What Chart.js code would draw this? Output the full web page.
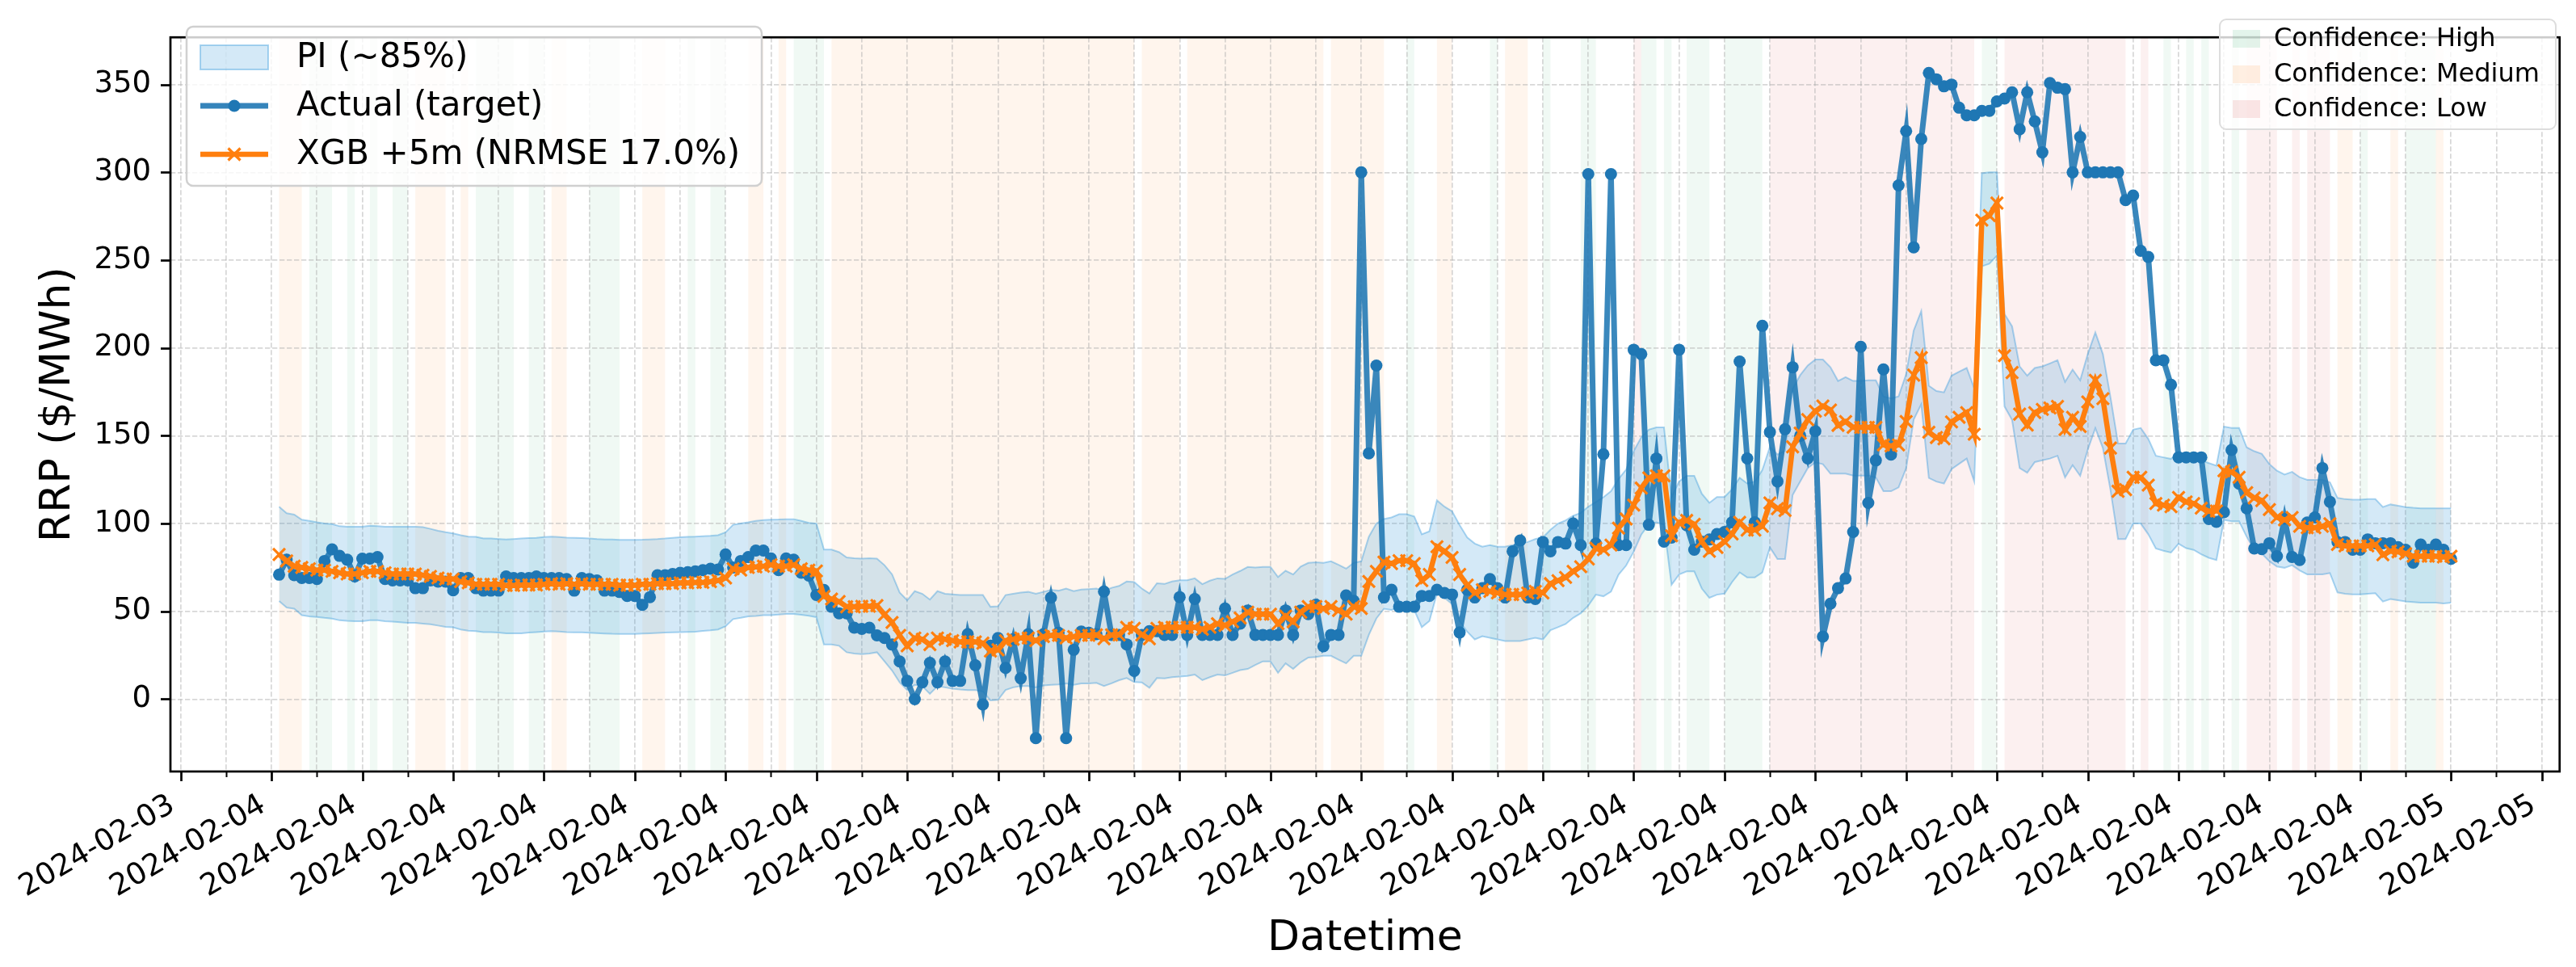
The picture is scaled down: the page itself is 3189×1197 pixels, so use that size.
<!DOCTYPE html>
<html><head><meta charset="utf-8">
<script src="https://cdn.jsdelivr.net/npm/chart.js@4.4.1/dist/chart.umd.min.js"></script>
<style>html,body{margin:0;padding:0;background:#fff;overflow:hidden}canvas{display:block}</style>
</head><body>
<canvas id="c" width="3189" height="1197" style="width:3189px;height:1197px"></canvas>
<script>
// ---------------- DATA (5-minute intervals, 2024-02-04 00:05 .. 2024-02-05 00:00) ----------------
const actual = [
70.9,79.4,70.6,69,69,68.4,78.7,85.3,81.6,79.4,
69.9,80,80,80.9,68.4,67.6,67.6,67.6,63.2,63.2,
67.6,66.9,66.9,62,69,69,63.2,61.8,61.8,61.8,
69.9,69,69,69,69.9,69,69,69,68.4,61.8,
69,68.4,67.6,61.8,61.8,61,58.8,58.8,53.7,58.1,
70.6,70.6,71.3,72,72.3,72.8,73.5,74.3,73.8,82.4,
75,78.7,80.9,84.6,84.6,80.1,73.5,80.1,79.4,72,
70.4,59.3,62.2,52.6,48.9,48.9,40.7,40,40.7,36.3,
34.8,31.1,21.5,10.4,0,9.6,20.7,9.6,21.5,10.4,
10.4,37,19.3,-3,30.4,34.8,17.8,34.1,11.9,37,
-22.2,37,57.8,37.8,-22.2,28.1,38.5,37.8,37,61.3,
36.6,36.6,31.2,16.1,36.6,38.7,38.7,36.6,36.6,58.1,
36.6,57,36.6,36.6,36.6,51.6,36.6,43,50.5,36.6,
36.6,36.6,36.6,50.5,36.6,50.5,48.4,53.8,30.1,36.6,
36.6,59.1,56,300,140,190,57.9,62.3,52.6,52.6,
52.6,58.8,58.8,62.3,60.5,59.6,38,62.3,57.9,63.2,
68.4,63.2,57.9,84.2,90.4,57.9,57,89.5,84.2,89.5,
88.6,100,87.7,299,88.6,139.5,299,87.7,87.7,199,
196.5,99.3,137,89.7,92,199,99,85.1,89.7,90.9,
94,95.2,100.7,192.3,137.1,100.7,212.6,152.1,124,153.7,
189,150,137.1,152.6,35.6,54.4,63.2,68.7,95.2,200.7,
111.8,136,187.8,139.3,292.6,323.5,257.3,319,356.6,353,
349,350,336.8,332.5,332.5,335,335,340.4,342,345.6,
324.6,345.6,329,311.4,350.9,348.2,347.4,300,320.2,300,
300,300,300,300,284.2,286.8,255.3,251.8,193,193,
179,137.7,137.7,137.7,137.7,102.6,101,106.5,141.9,122.7,
108.7,85.8,85.4,88.8,81.4,102.8,81,79.2,100.6,103.5,
131.6,112.4,89.5,89.5,85.1,85.1,91,88.8,88.8,88.8,
86.6,85.1,77.7,88.1,85.1,88.1,85.1,79.9];

const forecast = [
82.4,78.7,75.7,75,74.3,73.5,73.5,72.8,72,71.3,
71.3,72,72.8,72.8,72,71.3,71.3,71.3,71.3,70.6,
69.9,69,68.4,68.4,66.9,66.2,65.4,65.4,65.4,65.4,
64.7,64.7,65,65,65,65.4,65.8,65.4,65.8,65.4,
65.8,65.4,65.4,65.4,65.4,64.9,64.9,64.9,65.4,65.4,
65.8,65.8,65.8,66.2,66.2,66.5,66.5,66.9,67.6,69,
74.3,73.5,75,75.3,75.7,76.5,75.7,75.7,76.5,74.3,
73.5,73,58.5,57,55.6,52.6,52.6,52.9,52.9,53.3,
48.1,43.7,36.3,30.4,34.8,34.1,31.1,34.8,34.1,33.3,
32.6,32.6,32.6,31.9,27.4,28.1,33.3,34.1,34.8,34.8,
33.3,35.6,36.3,36.3,34.8,35.6,36.3,36.3,36.6,34.4,
36.6,36.6,40.9,40.3,36.6,34.4,40.3,40.9,40.9,40.9,
40.9,40.9,39.8,40.9,43,42,44.1,46.2,49.5,48.4,
48.4,48.4,43,47.3,44.1,49.5,52.7,52.7,51.6,52.7,
50.5,48.4,52.7,51.6,67,72.8,78,77.2,78.9,78.9,
77.2,67.5,71,86.8,84.2,80.7,71,64.9,60.5,62.3,
61.4,60.5,59.6,59.6,59.6,60.5,61.4,60.5,65.8,67.5,
69.3,72.8,75.4,79.8,86,85.1,87.7,97.4,102.6,110.5,
120.2,126,127.2,127.2,93,100.7,101.8,99.6,89.7,84.2,
86.4,89.7,94.1,100.7,96.3,96.3,98.5,111.8,108.5,107.4,
143.7,151.5,159.2,164,166.9,164.7,155.9,158.1,154.8,154.8,
154.8,154.8,144.8,144.2,144.8,158.1,184.5,194.5,152,149,
148.2,157.9,160.5,163.2,150.9,272.8,275.4,282.5,195.6,186,
162.3,156.1,163.2,165,165.8,166.7,153.5,160.5,155.3,169.3,
181.6,171.1,143,118.4,119.3,126.3,126.3,121.9,111.4,110.5,
109.6,114.9,112.3,111.4,108.8,107,107.2,130.1,129.4,126.4,
117.6,114.6,113.1,108,103.5,102.1,103.5,98.4,97.6,97.6,
98.4,99.9,88.1,87.3,87.3,87.3,87.3,88.1,82.2,84.4,
83.9,82.9,81.4,81.4,81.4,81.4,81,81.4];

const piUpper = [
109.6,105.9,105.1,102.2,101.5,100.7,100,99.7,98.5,98.2,
98.2,98.2,98.8,98.5,98.2,98.2,98.2,98.2,98.2,98,
97,95.9,95.1,94.4,93.4,92.6,92.4,91.5,91.5,91.2,
90.9,91.2,91.5,91.7,91.9,92.3,92.6,92.3,92,91.9,
91.7,91.5,91.2,91,90.9,90.7,90.7,90.7,90.8,91,
91.2,91.5,91.9,92.2,92.5,92.6,92.8,93,93.4,95,
99.3,100,100.7,101.5,102,102.2,102.3,102.5,102.5,101.5,
100.4,100,85.2,85.2,83.7,80.7,80.3,80,80.3,80,
76.3,71.1,60.7,56.3,61.5,60,56.7,61.5,60,59.7,
59.3,59.3,59.3,59.3,52.6,52.9,59.3,60,60.7,61.1,
60,61.1,62.2,61.8,63,61.5,62.4,62.7,63,61.5,
63.4,64.5,67,66.7,63,60.2,66,65.6,67,67.7,
67.7,68.8,65.5,67.5,68.8,68.5,71,73,75.3,75,
75.3,75.3,69.5,73.1,71,75.5,77.6,78,77.6,78.5,
76.5,74.3,77.6,78.5,92.5,100,102.6,103.5,105.3,105.3,
104,93.9,95.6,113.2,109.6,107,99.1,92.1,88.6,86.8,
87.7,86.8,86.8,87.7,88.6,89.5,91.2,92.1,96.5,100,
101.8,104.4,106.1,109.6,112.3,115,118.4,125.4,130.7,141.2,
149.1,153.5,154.8,154.8,115.1,124,127.2,127.2,117,111.8,
115.1,115.1,119.5,126.1,122.8,123.9,130.5,143.7,139.3,141.5,
176.8,184.5,190,193.4,193.4,189,181.2,183.4,181.2,181.2,
181.6,181.6,172.4,171.3,172.4,185,209.9,221,178.5,175.5,
174.7,184.2,186.5,188.6,177,299.5,300,300,219.3,212.3,
189.5,184.2,188.6,189.5,191.2,193,180.7,187.7,181.6,196.5,
208.8,196.5,172,145.6,145.6,153.5,154.4,148.2,138.6,137.7,
136.8,141.2,138.6,138.6,136,134.4,133,155.2,154.4,154.4,
143.4,141.2,139.7,133.8,130.1,127.9,129.4,126.4,124.9,124.9,
124.9,123.5,114.6,113.9,113.6,113.6,113.9,113.9,109.4,110.9,
110.2,109.4,109,108.7,108.7,108.7,108.7,108.7];

const piLower = [
55.9,52.2,51.5,47.8,47.1,46.8,46.3,45.9,44.9,44.6,
44.4,44.4,44.9,44.9,44.4,44.1,43.8,43.4,43.4,43,
42.6,41.9,41.2,40.9,39.7,39,38.7,38.2,38.2,37.9,
37.5,37.5,37.5,37.9,38.2,38.5,38.7,38.5,38.2,38,
38,37.8,37.6,37.4,37.2,37.1,37.1,37.1,37.3,37.5,
37.7,37.9,38.1,38.2,38.3,38.4,38.8,39.2,39.7,41.5,
45.6,46.3,47.1,47.4,47.8,47.8,48.2,48.5,48.5,48,
47.5,46.7,31.1,31.1,30.4,26.7,26,25.6,26,26.7,
21.5,16.3,9.6,5.2,8.1,7.4,3,7.4,6.7,5.9,
5.5,5.2,5.2,4.4,-0.7,-0.4,5.2,6.7,7.4,7.4,
6.7,7.8,8.1,8.4,8.9,8.1,8.9,8.9,9.3,7.5,
9,10.8,12,9.7,9.5,6.5,12,11.8,12.5,12.9,
13.2,14,10.8,12.5,14,13.5,15,16.5,17.2,19.5,
21.5,21.5,15,20.4,17.2,21,23.7,24,24.7,24.7,
22.5,20.4,24.7,24.7,36.6,46,51.5,50.8,52.5,52.5,
50.8,41,44.5,60.3,57.7,54.2,44.5,38.4,34,35.8,
34.9,34,33.1,33.1,33.1,34,34.9,34,39.3,41,
42.8,46.3,48.9,53.3,59.5,58.6,61.2,70.9,76.1,84,
93.7,99.5,100.7,99.3,65.1,71,72.8,72.8,63,57.7,
59.5,60.1,66.7,72.2,69.3,69.3,72.2,86.4,79.8,79.8,
116.2,124,131.6,134.9,133.8,128.4,128.4,128.4,127.3,127.3,
127.3,126.2,118.4,118.4,120.6,131.5,159.2,168,126,123.9,
122.8,131,134,137,124,246.5,248,252.6,166.7,159,
131.6,129,135,136,137,138.6,126.3,133.3,127.2,142.1,
154.4,143,119.3,91.2,91.2,100,100,93.9,85.8,84.5,
83.5,88.5,86,85,82.5,80.5,79.2,102.1,101.3,101.3,
92.5,85.1,82.9,78.5,75.5,74.8,76.3,73.3,71.1,71.1,
71.1,71.8,60.8,60,59.7,59.7,60,60.3,55.6,57,
56.3,55.6,55.3,54.9,54.9,54.9,54.5,54.9];

// Confidence per interval: H = High, M = Medium, L = Low, - = none
const confidenceRows = [
"MMM-HHH--H","--H--HH-MM","MM--M-HHHH","H--HH-MM--","-HHHH---MM",
"M---H--HH-","--MM--M-HH","HH-MMMMMMM","MMMMMMMMMM","MMMMMMMMMM",
"MMMMMMMMMM","MMM-MMMMM-","MMMMMMMMMM","MMMMMMMM-M","MMMMMM---H",
"---MM-----","H-MMM--H--","--HH-----L","HH-H--HHH-","-HHHHH-LLL",
"LLLLLLLLLL","LLLLLLLLLL","LLLL-HH-LL","LLLLLLLLLL","LLLL--L--H",
"--H-H---H-","LLLL--L-LL","L-MM-H---M","-HHHHM--"];
const confidence = confidenceRows.join('').split('');

// Axis ticks (hours relative to 2024-02-04 00:00)
const xTickHours = [-1,0,1,2,3,4,5,6,7,8,9,10,11,12,13,14,15,16,17,18,19,20,21,22,23,24,25];
const xTickLabels = ['2024-02-03','2024-02-04','2024-02-04','2024-02-04','2024-02-04','2024-02-04',
  '2024-02-04','2024-02-04','2024-02-04','2024-02-04','2024-02-04','2024-02-04','2024-02-04',
  '2024-02-04','2024-02-04','2024-02-04','2024-02-04','2024-02-04','2024-02-04','2024-02-04',
  '2024-02-04','2024-02-04','2024-02-04','2024-02-04','2024-02-04','2024-02-05','2024-02-05'];
const yTicks = [0,50,100,150,200,250,300,350];

const legendLabels = ['PI (~85%)','Actual (target)','XGB +5m (NRMSE 17.0%)'];
const confLegend = [['H','Confidence: High'],['M','Confidence: Medium'],['L','Confidence: Low']];

// ---------------- CHART ----------------
const FONT = '"DejaVu Sans", "Liberation Sans", sans-serif';
const STEP_H = 5/60;
const times = actual.map((_, i) => (i + 1) * STEP_H);
const pts = arr => arr.map((v, i) => ({x: times[i], y: v}));
const xGrid = [];
xTickHours.forEach((h, k) => { xGrid.push(h); if (k < xTickHours.length - 1) xGrid.push(h + 0.5); });

const BLUE = '#1f77b4', ORANGE = '#ff7f0e';
const PI_FILL = 'rgba(52,152,219,0.21)', PI_EDGE = 'rgba(52,152,219,0.4)';
const confColors = {H:'rgba(60,179,113,0.08)', M:'rgba(255,127,14,0.075)', L:'rgba(214,39,40,0.07)'};
const confLegendColors = {H:'rgba(60,179,113,0.14)', M:'rgba(255,127,14,0.12)', L:'rgba(214,39,40,0.11)'};
const TICK_FS = 37, LEG_FS = 42, CONF_FS = 32, TITLE_FS = 52;

Chart.defaults.font.family = FONT;

function roundRect(ctx, x, y, w, h, r) {
  ctx.beginPath();
  ctx.moveTo(x + r, y); ctx.lineTo(x + w - r, y); ctx.arcTo(x + w, y, x + w, y + r, r);
  ctx.lineTo(x + w, y + h - r); ctx.arcTo(x + w, y + h, x + w - r, y + h, r);
  ctx.lineTo(x + r, y + h); ctx.arcTo(x, y + h, x, y + h - r, r);
  ctx.lineTo(x, y + r); ctx.arcTo(x, y, x + r, y, r); ctx.closePath();
}

const bandsPlugin = {
  id: 'bands',
  beforeDraw(chart) {
    const {ctx, chartArea: a, scales: {x}} = chart;
    ctx.save();
    let i = 0;
    while (i < confidence.length) {
      const c = confidence[i];
      let j = i;
      while (j + 1 < confidence.length && confidence[j + 1] === c) j++;
      if (confColors[c]) {
        const x0 = x.getPixelForValue(times[i]);
        const x1 = x.getPixelForValue(times[j] + STEP_H);
        ctx.fillStyle = confColors[c];
        ctx.fillRect(x0, a.top, x1 - x0, a.bottom - a.top);
      }
      i = j + 1;
    }
    ctx.restore();
  }
};

const decorPlugin = {
  id: 'decor',
  afterDraw(chart) {
    const {ctx, chartArea: a, scales: {x, y}} = chart;
    ctx.save();
    ctx.strokeStyle = '#000';
    // x ticks
    xGrid.forEach(h => {
      const px = Math.round(x.getPixelForValue(h)) + 0.5;
      const major = Number.isInteger(h);
      ctx.lineWidth = major ? 2.7 : 2.0;
      ctx.beginPath(); ctx.moveTo(px, a.bottom); ctx.lineTo(px, a.bottom + (major ? 12 : 7)); ctx.stroke();
    });
    yTicks.forEach(v => {
      const py = Math.round(y.getPixelForValue(v)) + 0.5;
      ctx.lineWidth = 2.7;
      ctx.beginPath(); ctx.moveTo(a.left, py); ctx.lineTo(a.left - 12, py); ctx.stroke();
    });
    // spines
    ctx.lineWidth = 2.7;
    ctx.strokeRect(a.left, a.top, a.right - a.left, a.bottom - a.top);

    // axis titles
    ctx.fillStyle = '#000';
    ctx.font = TITLE_FS + 'px ' + FONT;
    ctx.textAlign = 'center'; ctx.textBaseline = 'middle';
    ctx.fillText('Datetime', (a.left + a.right) / 2, 1162);
    ctx.save();
    ctx.translate(72, (a.top + a.bottom) / 2);
    ctx.rotate(-Math.PI / 2);
    ctx.fillText('RRP ($/MWh)', 0, 0);
    ctx.restore();

    // main legend
    roundRect(ctx, 231, 33, 712, 197, 8);
    ctx.fillStyle = 'rgba(255,255,255,0.8)'; ctx.fill();
    ctx.strokeStyle = '#d0d0d0'; ctx.lineWidth = 2.5; ctx.stroke();
    const rows = [71, 131, 191];
    const hx0 = 248, hx1 = 332, hxc = 290, tx = 367;
    // PI patch
    ctx.fillStyle = PI_FILL; ctx.fillRect(hx0, rows[0] - 15, hx1 - hx0, 30);
    ctx.strokeStyle = PI_EDGE; ctx.lineWidth = 2; ctx.strokeRect(hx0, rows[0] - 15, hx1 - hx0, 30);
    // actual
    ctx.strokeStyle = 'rgba(31,119,180,0.9)'; ctx.lineWidth = 7;
    ctx.beginPath(); ctx.moveTo(hx0, rows[1]); ctx.lineTo(hx1, rows[1]); ctx.stroke();
    ctx.fillStyle = BLUE; ctx.beginPath(); ctx.arc(hxc, rows[1], 7.5, 0, Math.PI * 2); ctx.fill();
    // xgb
    ctx.strokeStyle = ORANGE; ctx.lineWidth = 6.5;
    ctx.beginPath(); ctx.moveTo(hx0, rows[2]); ctx.lineTo(hx1, rows[2]); ctx.stroke();
    ctx.lineWidth = 3.2;
    ctx.beginPath();
    ctx.moveTo(hxc - 7.5, rows[2] - 7.5); ctx.lineTo(hxc + 7.5, rows[2] + 7.5);
    ctx.moveTo(hxc - 7.5, rows[2] + 7.5); ctx.lineTo(hxc + 7.5, rows[2] - 7.5);
    ctx.stroke();
    ctx.fillStyle = '#000'; ctx.font = LEG_FS + 'px ' + FONT; ctx.textAlign = 'left'; ctx.textBaseline = 'middle';
    legendLabels.forEach((t, k) => ctx.fillText(t, tx, rows[k] + 1));

    // confidence legend
    roundRect(ctx, 2748, 24, 416, 136, 8);
    ctx.fillStyle = 'rgba(255,255,255,0.8)'; ctx.fill();
    ctx.strokeStyle = '#dddddd'; ctx.lineWidth = 2; ctx.stroke();
    const crow = [48, 92, 135];
    ctx.font = CONF_FS + 'px ' + FONT;
    confLegend.forEach(([c, t], k) => {
      ctx.fillStyle = confLegendColors[c];
      ctx.fillRect(2764, crow[k] - 11, 34, 22);
      ctx.fillStyle = '#000';
      ctx.fillText(t, 2815, crow[k] + 1);
    });
    ctx.restore();
  }
};

const labelFor = v => {
  const k = xTickHours.indexOf(v);
  return k >= 0 ? xTickLabels[k] : '';
};

new Chart(document.getElementById('c'), {
  type: 'line',
  data: {
    datasets: [
      {label: 'PI upper', data: pts(piUpper), borderColor: PI_EDGE, borderWidth: 2, pointRadius: 0,
       backgroundColor: PI_FILL, fill: '+1', order: 3},
      {label: 'PI lower', data: pts(piLower), borderColor: PI_EDGE, borderWidth: 2, pointRadius: 0,
       fill: false, order: 3},
      {label: legendLabels[1], data: pts(actual), borderColor: 'rgba(31,119,180,0.88)', borderWidth: 7,
       pointRadius: 7.5, pointBackgroundColor: BLUE, pointBorderColor: BLUE, pointBorderWidth: 0, fill: false, order: 2},
      {label: legendLabels[2], data: pts(forecast), borderColor: ORANGE, borderWidth: 6.5,
       pointStyle: 'crossRot', pointRadius: 10.5, pointBorderColor: ORANGE, pointBorderWidth: 3.2, fill: false, order: 1}
    ]
  },
  options: {
    responsive: false, animation: false, devicePixelRatio: 1,
    layout: {padding: {left: 0, right: 15, top: 14, bottom: 0}},
    elements: {line: {tension: 0}},
    plugins: {legend: {display: false}, tooltip: {enabled: false}},
    scales: {
      x: {
        type: 'linear', min: -1.113, max: 25.196,
        afterBuildTicks: s => { s.ticks = xGrid.map(v => ({value: v})); },
        afterFit: s => { s.height = 242; },
        ticks: {autoSkip: false, minRotation: 30, maxRotation: 30, padding: 20, labelOffset: -10,
                color: '#000', font: {size: TICK_FS, family: FONT}, callback: v => labelFor(v)},
        grid: {color: 'rgba(176,176,176,0.5)', lineWidth: 1.7, drawTicks: false},
        border: {display: false, dash: [6.3, 2.7]}
      },
      y: {
        min: -41.2, max: 376.9,
        afterBuildTicks: s => { s.ticks = yTicks.map(v => ({value: v})); },
        afterFit: s => { s.width = 211; },
        ticks: {padding: 24, color: '#000', font: {size: TICK_FS, family: FONT}},
        grid: {color: 'rgba(176,176,176,0.5)', lineWidth: 1.7, drawTicks: false},
        border: {display: false, dash: [6.3, 2.7]}
      }
    }
  },
  plugins: [bandsPlugin, decorPlugin]
});
</script>
</body></html>
